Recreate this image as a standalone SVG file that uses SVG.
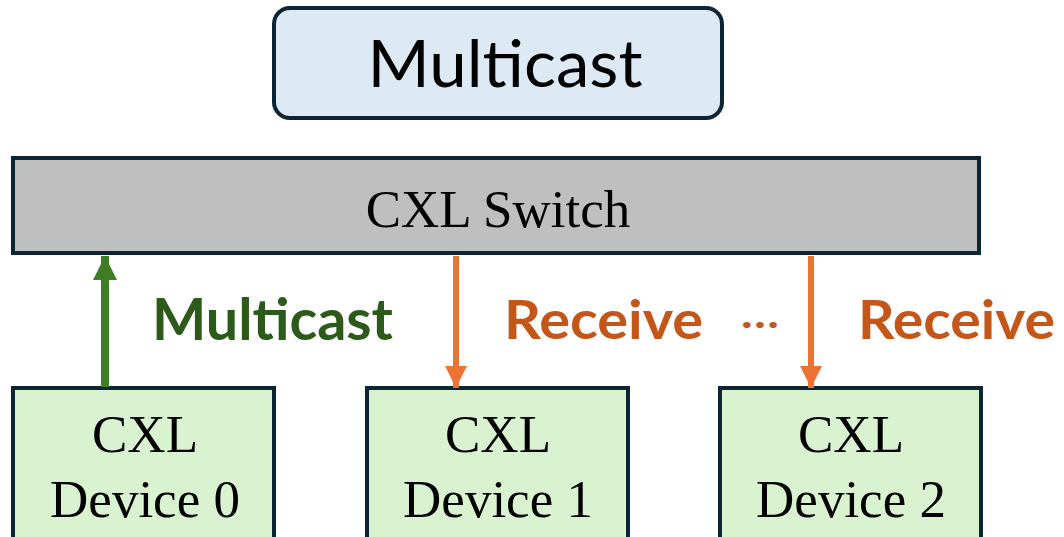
<svg xmlns="http://www.w3.org/2000/svg" width="1064" height="537" viewBox="0 0 1064 537">
  <style>
    .box { stroke: #0b2535; stroke-width: 4; }
    .serif { font-family: "Liberation Serif", "Times New Roman", serif; fill: #000; text-anchor: middle; }
    .sans { font-family: Lato, "Open Sans", sans-serif; }
    .up { stroke: #3e7d23; stroke-width: 8; fill: none; }
    .down { stroke: #eb7334; stroke-width: 6; fill: none; }
    .lbl-green { fill: #2d5a1a; font-weight: bold; }
    .lbl-orange { fill: #c4561a; font-weight: bold; }
  </style>
  <defs>
    <marker id="headGreen" viewBox="0 0 24 24" markerUnits="userSpaceOnUse" markerWidth="24" markerHeight="24" refX="24" refY="12" orient="auto">
      <path d="M0,0 L24,12 L0,24 Z" fill="#3e7d23"/>
    </marker>
    <marker id="headOrange" viewBox="0 0 24 24" markerUnits="userSpaceOnUse" markerWidth="22" markerHeight="22" refX="24" refY="12" orient="auto">
      <path d="M0,0 L24,12 L0,24 Z" fill="#eb7334"/>
    </marker>
  </defs>

  <rect width="1064" height="537" fill="#ffffff"/>

  <!-- operation title -->
  <g id="title">
    <rect class="box" x="274" y="8" width="448" height="110" rx="16" fill="#dde9f5" stroke-width="3.5"/>
    <text class="sans" x="505" y="87" font-size="65" fill="#000" text-anchor="middle" textLength="275" lengthAdjust="spacingAndGlyphs">Multicast</text>
  </g>

  <!-- switch -->
  <g id="switch">
    <rect class="box" x="13" y="158" width="966" height="95" fill="#bfbfbf"/>
    <text class="serif" x="498" y="227" font-size="53">CXL Switch</text>
  </g>

  <!-- devices -->
  <g id="device0">
    <rect class="box" x="13" y="388" width="261" height="160" fill="#d9f2d0"/>
    <text class="serif" x="145" y="452" font-size="53">CXL</text>
    <text class="serif" x="145" y="517" font-size="53">Device 0</text>
  </g>
  <g id="device1">
    <rect class="box" x="367" y="388" width="261" height="160" fill="#d9f2d0"/>
    <text class="serif" x="498" y="452" font-size="53">CXL</text>
    <text class="serif" x="498" y="517" font-size="53">Device 1</text>
  </g>
  <g id="device2">
    <rect class="box" x="720" y="388" width="261" height="160" fill="#d9f2d0"/>
    <text class="serif" x="851" y="452" font-size="53">CXL</text>
    <text class="serif" x="851" y="517" font-size="53">Device 2</text>
  </g>

  <!-- connectors -->
  <g id="connectors">
    <line class="up" x1="105" y1="387" x2="105" y2="256" marker-end="url(#headGreen)"/>
    <line class="down" x1="456" y1="256" x2="456" y2="388" marker-end="url(#headOrange)"/>
    <line class="down" x1="811" y1="256" x2="811" y2="388" marker-end="url(#headOrange)"/>
  </g>

  <!-- labels -->
  <g id="labels" class="sans">
    <text class="lbl-green" x="152" y="340" font-size="57" textLength="241" lengthAdjust="spacingAndGlyphs">Multicast</text>
    <text class="lbl-orange" x="504" y="339" font-size="54" textLength="199" lengthAdjust="spacingAndGlyphs">Receive</text>
    <text class="lbl-orange" x="741" y="328" font-size="40" textLength="38" lengthAdjust="spacingAndGlyphs">…</text>
    <text class="lbl-orange" x="858" y="339" font-size="54" textLength="197" lengthAdjust="spacingAndGlyphs">Receive</text>
  </g>
</svg>
